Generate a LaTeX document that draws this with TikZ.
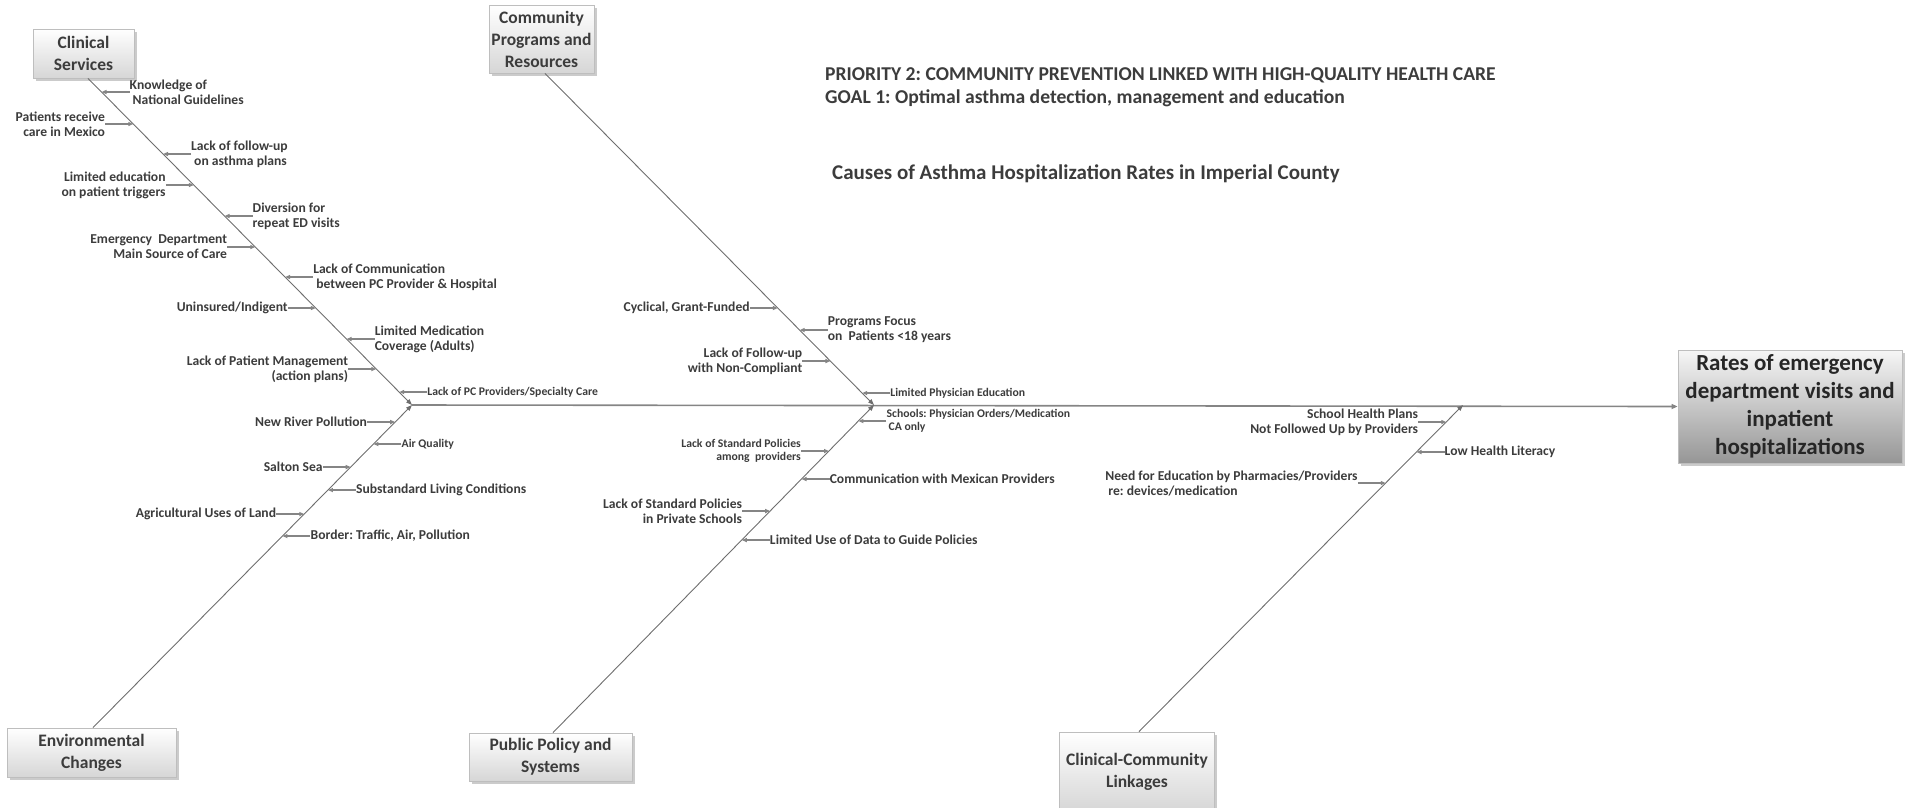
\documentclass[tikz,border=0pt]{standalone}
\usepackage{fontspec}
\setmainfont{Carlito}
\frenchspacing
\usetikzlibrary{calc,shadows,arrows.meta}
\definecolor{txt}{HTML}{3C3C3C}
\definecolor{ln}{HTML}{858585}
\definecolor{spn}{HTML}{6E6E6E}
\definecolor{bx}{HTML}{BEBEBE}
\tikzset{
  lbl/.style={font=\bfseries\fontsize{13.6}{15}\selectfont, text=txt, inner sep=0pt},
  sml/.style={font=\bfseries\fontsize{11.7}{13.5}\selectfont},
  br/.style={draw=ln, line width=1.3pt, -{Triangle[length=5pt,width=4pt]}},
  spine/.style={draw=spn, line width=0.9pt, -{Triangle[length=6pt,width=4.5pt]}},
  mainl/.style={draw=ln, line width=1.6pt, -{Triangle[length=6pt,width=5pt]}},
  cat/.style={draw=bx, line width=0.8pt, top color=white, bottom color={rgb,255:red,214;green,214;blue,214},
    drop shadow={shadow xshift=2.5pt, shadow yshift=-2.5pt, opacity=0.45, fill=black!45},
    font=\bfseries\fontsize{17.5}{22}\selectfont, text=txt, align=center, inner sep=0pt},
  eff/.style={draw=bx, line width=0.8pt, top color={rgb,255:red,246;green,246;blue,246}, bottom color={rgb,255:red,150;green,150;blue,150},
    drop shadow={shadow xshift=2.5pt, shadow yshift=-2.5pt, opacity=0.45, fill=black!45},
    font=\bfseries\fontsize{23}{28}\selectfont, text={rgb,255:red,38;green,38;blue,38}, align=center, inner sep=0pt},
  ttl/.style={font=\bfseries\fontsize{19.6}{22}\selectfont, text=txt, inner sep=0pt, anchor=west},
}
% left-side label: #1 extra style, #2 name, #3 spine start, #4 spine end, #5 y, #6 text
\newcommand\causeL[6][]{%
  \coordinate (#2) at (intersection of #3--#4 and 0,#5--10,#5);
  \node[lbl,anchor=east,align=right,#1] (#2n) at ([xshift=-28pt]#2) {#6};
  \draw[br] (#2n.east) -- (#2);
}
\newcommand\causeR[6][]{%
  \coordinate (#2) at (intersection of #3--#4 and 0,#5--10,#5);
  \node[lbl,anchor=west,align=left,#1] (#2n) at ([xshift=28pt]#2) {#6};
  \draw[br] (#2n.west) -- (#2);
}
\begin{document}
\begin{tikzpicture}[x=1pt,y=-1pt]
\useasboundingbox (0,0) rectangle (1907,807);
\clip (0,0) rectangle (1907,807);

% category boxes
\node[cat, minimum width=101pt, minimum height=49pt] (clin) at (83.5,53.5) {Clinical\\Services};
\node[cat, minimum width=105pt, minimum height=68pt] (comm) at (541.5,39) {Community\\Programs and\\Resources};
\node[cat, minimum width=169pt, minimum height=49pt] (env) at (91.5,752.5) {Environmental\\Changes};
\node[cat, minimum width=163pt, minimum height=48pt] (pol) at (550.5,757) {Public Policy and\\Systems};
\node[cat, minimum width=155pt, minimum height=80pt] (cc) at (1137,772) {Clinical-Community\\Linkages};
\node[eff, minimum width=224pt, minimum height=113pt] (rates) at (1790,406.5) {Rates of emergency\\department visits and\\inpatient\\hospitalizations};

% titles
\node[ttl] (t1) at (825,75.5) {PRIORITY 2: COMMUNITY PREVENTION LINKED WITH HIGH-QUALITY HEALTH CARE};
\node[ttl] (t2) at (825,98.5) {GOAL 1: Optimal asthma detection, management and education};
\node[ttl, font=\bfseries\fontsize{21}{24}\selectfont] (t3) at (832,173.5) {Causes of Asthma Hospitalization Rates in Imperial County};

% junctions and spine ends
\coordinate (j1) at (412,405);
\coordinate (j2) at (874,405);
\coordinate (j3) at (1463,405);
\coordinate (c1s) at ([xshift=4.5pt]clin.south);
\coordinate (c2s) at ([xshift=3.5pt]comm.south);
\coordinate (e1s) at ([xshift=1.5pt]env.north);
\coordinate (p1s) at ([xshift=2.5pt]pol.north);
\coordinate (k1s) at ([xshift=2pt]cc.north);

% main line and spines
\draw[mainl] (j1) -- (rates.west);
\draw[spine] (c1s) -- (j1);
\draw[spine] (e1s) -- (j1);
\draw[spine] (c2s) -- (j2);
\draw[spine] (p1s) -- (j2);
\draw[spine] (k1s) -- (j3);

% Clinical services
\causeR{a1}{c1s}{j1}{92}{Knowledge of\\\hspace*{3pt}National Guidelines}
\causeL{a2}{c1s}{j1}{124}{Patients receive\\care in Mexico}
\causeR{a3}{c1s}{j1}{154}{Lack of follow-up\\\hspace*{3pt}on asthma plans}
\causeL{a4}{c1s}{j1}{185}{Limited education\\on patient triggers}
\causeR{a5}{c1s}{j1}{216}{Diversion for\\repeat ED visits}
\causeL{a6}{c1s}{j1}{247}{Emergency~~Department\\Main Source of Care}
\causeR{a7}{c1s}{j1}{277}{Lack of Communication\\\hspace*{3pt}between PC Provider \& Hospital}
\causeL{a8}{c1s}{j1}{308}{Uninsured/Indigent}
\causeR{a9}{c1s}{j1}{339}{Limited Medication\\Coverage (Adults)}
\causeL{a10}{c1s}{j1}{369}{Lack of Patient Management\\(action plans)}
\causeR[sml]{a11}{c1s}{j1}{392}{Lack of PC Providers/Specialty Care}

% Environmental changes
\causeL{b1}{e1s}{j1}{422}{New River Pollution}
\causeR[sml]{b2}{e1s}{j1}{444}{Air Quality}
\causeL{b3}{e1s}{j1}{467}{Salton Sea}
\causeR{b4}{e1s}{j1}{490}{Substandard Living Conditions}
\causeL{b5}{e1s}{j1}{514}{Agricultural Uses of Land}
\causeR{b6}{e1s}{j1}{536}{Border: Traffic, Air, Pollution}

% Community programs
\causeL{d1}{c2s}{j2}{308}{Cyclical, Grant-Funded}
\causeR{d2}{c2s}{j2}{330}{Programs Focus\\on~~Patients <18 years}
\causeL{d3}{c2s}{j2}{361}{Lack of Follow-up\\with Non-Compliant}
\causeR[sml]{d4}{c2s}{j2}{393}{Limited Physician Education}

% Public policy
\causeR[sml]{f1}{p1s}{j2}{421}{Schools: Physician Orders/Medication\\\hspace*{2pt}CA only}
\causeL[sml]{f2}{p1s}{j2}{451}{Lack of Standard Policies\\among~~providers}
\causeR{f3}{p1s}{j2}{479}{Communication with Mexican Providers}
\causeL{f4}{p1s}{j2}{511}{Lack of Standard Policies\\in Private Schools}
\causeR{f5}{p1s}{j2}{540}{Limited Use of Data to Guide Policies}

% Clinical-community linkages
\causeL{g1}{k1s}{j3}{422}{School Health Plans\\Not Followed Up by Providers}
\causeR{g2}{k1s}{j3}{452}{Low Health Literacy}
\causeL[align=left]{g3}{k1s}{j3}{483}{Need for Education by Pharmacies/Providers\\\hspace*{3pt}re: devices/medication}
\end{tikzpicture}
\end{document}
